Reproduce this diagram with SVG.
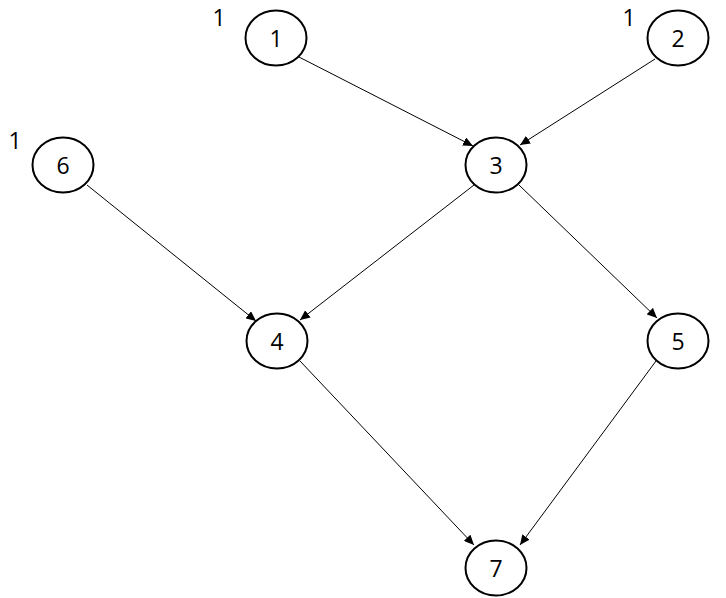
<svg xmlns="http://www.w3.org/2000/svg" width="726" height="598" viewBox="0 0 726 598">
<style>
.node ellipse{fill:#fff;stroke:#000;stroke-width:2}
text{font-family:"Open Sans","Noto Sans","DejaVu Sans",sans-serif;font-size:23px;fill:#000}
.lbl{text-anchor:middle;dominant-baseline:central}
#edges line{stroke:#000;stroke-width:1;marker-end:url(#arr)}
</style>
<defs>
<marker id="arr" markerUnits="userSpaceOnUse" markerWidth="11" markerHeight="9" refX="10" refY="4.5" orient="auto">
<path d="M0,0 L10,4.5 L0,9 z" fill="#000"/>
</marker>
</defs>
<rect width="726" height="598" fill="#fff"/>
<g id="edges">
<line x1="299" y1="57" x2="473" y2="146"/>
<line x1="655" y1="59" x2="520" y2="145"/>
<line x1="87" y1="185" x2="256" y2="321"/>
<line x1="474" y1="185" x2="300" y2="320"/>
<line x1="519" y1="185" x2="657" y2="318"/>
<line x1="300" y1="361" x2="474" y2="545"/>
<line x1="656" y1="361" x2="520" y2="545"/>
</g>
<g id="n1" class="node"><ellipse cx="276" cy="38" rx="30.5" ry="27.5"/><text class="lbl" x="276" y="38">1</text></g>
<g id="n2" class="node"><ellipse cx="678" cy="38" rx="30.5" ry="27.5"/><text class="lbl" x="678" y="38">2</text></g>
<g id="n3" class="node"><ellipse cx="496" cy="165" rx="30.5" ry="27.5"/><text class="lbl" x="496" y="165">3</text></g>
<g id="n6" class="node"><ellipse cx="63" cy="165" rx="30.5" ry="27.5"/><text class="lbl" x="63" y="165">6</text></g>
<g id="n4" class="node"><ellipse cx="277" cy="341" rx="30.5" ry="27.5"/><text class="lbl" x="277" y="341">4</text></g>
<g id="n5" class="node"><ellipse cx="678" cy="341" rx="30.5" ry="27.5"/><text class="lbl" x="678" y="341">5</text></g>
<g id="n7" class="node"><ellipse cx="496" cy="568" rx="30.5" ry="27.5"/><text class="lbl" x="496" y="568">7</text></g>
<g id="marks">
<text class="lbl" x="219" y="17">1</text>
<text class="lbl" x="629" y="17">1</text>
<text class="lbl" x="15" y="140">1</text>
</g>
</svg>
